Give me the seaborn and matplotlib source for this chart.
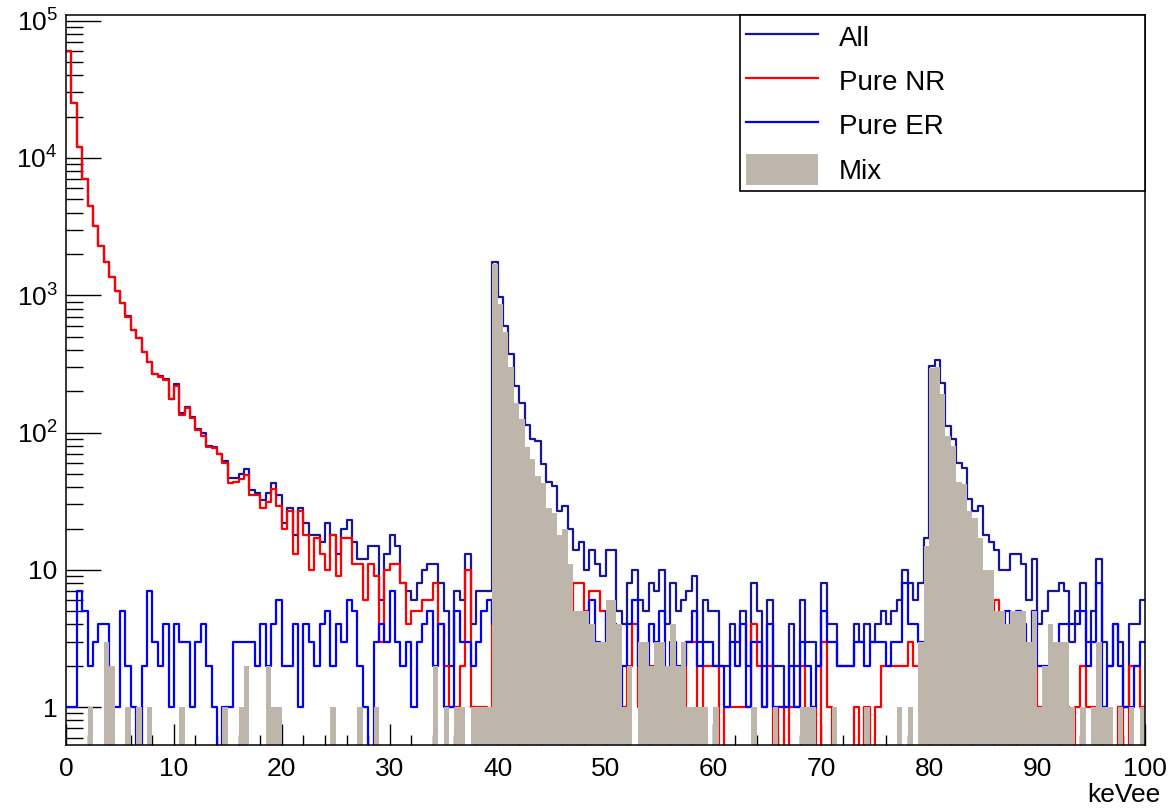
import numpy as np
import matplotlib
matplotlib.use("Agg")
import matplotlib.pyplot as plt
import seaborn as sns
from matplotlib.lines import Line2D
from matplotlib.patches import Patch
from matplotlib.ticker import FixedLocator, MultipleLocator, NullFormatter

# ---------------- data (counts per 0.5 keVee bin, 0-100 keVee) ----------------
bin_edges = [i * 0.5 for i in range(201)]

all_counts = [
    60000, 25000, 12000, 7000, 4500, 3200, 2300, 1750, 1350, 1080,
    885, 705, 560, 490, 385, 325, 268, 257, 245, 176,
    225, 138, 153, 130, 107, 99, 80, 78, 70, 62,
    47, 47, 50, 54, 38, 36, 32, 36, 43, 35,
    22, 28, 18, 28, 22, 18, 18, 16, 22, 18,
    13, 20, 23, 16, 12, 12, 15, 15, 6, 13,
    18, 15, 8, 7, 6, 8, 10, 11, 11, 8,
    5, 2, 7, 6, 13, 4, 7, 7, 7, 1750,
    970, 600, 375, 220, 165, 113, 90, 87, 59, 44,
    41, 27, 29, 20, 14, 16, 10, 14, 11, 9,
    14, 14, 5, 4, 8, 10, 6, 5, 8, 7,
    10, 4, 8, 5, 6, 7, 9, 3, 6, 5,
    5, 2, 2, 4, 3, 5, 2, 8, 5, 2,
    6, 2, 2, 1, 4, 2, 6, 3, 3, 2,
    8, 4, 4, 2, 2, 2, 4, 3, 4, 3,
    4, 5, 4, 5, 6, 10, 8, 6, 8, 17,
    305, 340, 230, 112, 90, 60, 55, 33, 27, 29,
    18, 16, 14, 10, 10, 13, 13, 11, 6, 12,
    4, 5, 7, 7, 8, 7, 3, 5, 8, 3,
    5, 12, 3, 2, 4, 3, 1, 4, 4, 6,
]

pure_nr = [
    60000, 25000, 12000, 7000, 4500, 3200, 2300, 1750, 1350, 1080,
    880, 700, 560, 490, 385, 325, 265, 255, 240, 175,
    220, 135, 150, 128, 104, 95, 78, 77, 70, 60,
    43, 44, 46, 49, 35, 35, 28, 31, 39, 29,
    20, 27, 13, 27, 18, 10, 17, 13, 10, 18,
    9, 17, 17, 11, 11, 6, 11, 9, 3, 10,
    11, 11, 8, 4, 5, 5, 6, 6, 8, 4,
    2, 1, 1, 2, 10, 1, 1, 1, 0, 6,
    6, 5, 5, 4, 5, 4, 4, 5, 4, 4,
    4, 3, 3, 4, 8, 8, 5, 7, 7, 5,
    3, 4, 0, 1, 2, 4, 1, 1, 2, 1,
    2, 1, 1, 1, 1, 3, 3, 0, 2, 2,
    2, 0, 1, 1, 1, 1, 1, 4, 2, 1,
    2, 0, 1, 0, 1, 1, 2, 0, 1, 0,
    3, 1, 0, 0, 0, 0, 1, 0, 1, 0,
    1, 2, 2, 2, 2, 2, 3, 2, 2, 1,
    4, 4, 4, 3, 3, 4, 3, 3, 2, 3,
    2, 3, 6, 2, 1, 2, 2, 1, 1, 2,
    1, 1, 1, 2, 1, 1, 0, 1, 2, 1,
    1, 1, 1, 0, 0, 1, 0, 2, 2, 1,
]

pure_er = [
    1, 1, 7, 5, 2, 3, 4, 4, 1, 1,
    5, 2, 1, 0, 2, 7, 3, 2, 4, 1,
    4, 3, 3, 1, 3, 4, 2, 1, 0, 1,
    1, 3, 3, 3, 3, 2, 4, 2, 4, 6,
    2, 2, 4, 1, 4, 3, 2, 4, 5, 2,
    4, 3, 6, 5, 2, 1, 0, 3, 4, 3,
    7, 3, 2, 3, 1, 3, 4, 5, 2, 4,
    1, 1, 5, 3, 3, 2, 3, 5, 6, 4,
    4, 3, 4, 5, 3, 4, 3, 4, 3, 4,
    3, 4, 3, 4, 3, 4, 3, 6, 3, 2,
    5, 4, 1, 2, 4, 6, 2, 1, 4, 3,
    5, 1, 3, 2, 2, 3, 5, 2, 3, 3,
    2, 2, 1, 3, 2, 4, 1, 3, 3, 1,
    4, 1, 1, 1, 2, 1, 3, 2, 1, 2,
    5, 3, 3, 2, 2, 2, 3, 3, 2, 3,
    3, 3, 2, 3, 3, 8, 4, 4, 3, 1,
    5, 4, 4, 4, 5, 4, 3, 3, 1, 4,
    4, 3, 3, 3, 5, 4, 5, 4, 2, 5,
    2, 2, 2, 2, 4, 4, 4, 4, 5, 2,
    3, 8, 1, 2, 4, 2, 1, 1, 2, 3,
]

mix = [
    0, 0, 0, 0, 1, 0, 0, 3, 2, 0,
    0, 1, 0, 1, 0, 1, 0, 0, 0, 0,
    0, 1, 0, 0, 0, 0, 0, 0, 0, 1,
    0, 0, 1, 2, 0, 0, 0, 2, 1, 1,
    0, 0, 0, 0, 0, 0, 0, 0, 0, 1,
    0, 0, 0, 0, 1, 0, 0, 1, 0, 0,
    0, 0, 0, 0, 0, 0, 0, 0, 2, 0,
    1, 0, 1, 1, 0, 1, 1, 1, 1, 1700,
    860, 540, 300, 165, 125, 78, 64, 48, 43, 28,
    26, 18, 20, 11, 5, 5, 5, 4, 3, 3,
    6, 6, 4, 1, 2, 0, 3, 3, 2, 3,
    3, 2, 4, 2, 3, 1, 1, 1, 1, 0,
    1, 0, 0, 0, 0, 0, 0, 1, 0, 0,
    0, 1, 0, 0, 0, 0, 1, 1, 1, 0,
    0, 0, 1, 0, 0, 0, 0, 0, 1, 0,
    0, 0, 0, 0, 1, 0, 1, 0, 3, 15,
    296, 300, 190, 95, 80, 44, 42, 27, 24, 17,
    10, 10, 5, 5, 4, 5, 5, 5, 3, 5,
    1, 2, 4, 3, 3, 3, 1, 0, 1, 0,
    1, 3, 1, 1, 0, 1, 0, 1, 0, 1,
]

series_labels = ["All", "Pure NR", "Pure ER", "Mix"]
y_tick_values = [1, 10, 100, 1000, 10000, 100000]
y_tick_labels = ["1", "10", "$10^{2}$", "$10^{3}$", "$10^{4}$", "$10^{5}$"]
x_label = "keVee"

# ---------------- style ----------------
plt.rcParams["font.family"] = ["Liberation Sans", "DejaVu Sans"]
plt.rcParams["mathtext.fontset"] = "custom"
plt.rcParams["mathtext.rm"] = "Liberation Sans"
plt.rcParams["mathtext.it"] = "Liberation Sans:italic"
plt.rcParams["mathtext.default"] = "rm"

c_all = "#16169c"
c_nr = "#ff0000"
c_er = "#0000ff"
c_mix = "#bfb6ab"
lw = 1.6

W, H = 1170, 811
fig = plt.figure(figsize=(W / 100, H / 100), dpi=100)
ax = fig.add_axes([66 / W, 1 - 745 / H, (1145 - 66) / W, (745 - 15) / H])
ax.set_yscale("log")

centers = [(bin_edges[i] + bin_edges[i + 1]) / 2 for i in range(len(bin_edges) - 1)]
for vals, col in [(all_counts, c_all), (pure_nr, c_nr), (pure_er, c_er)]:
    sns.histplot(x=centers, weights=vals, bins=bin_edges, element="step",
                 fill=False, color=col, linewidth=lw, ax=ax)
sns.histplot(x=centers, weights=mix, bins=bin_edges, element="step",
             fill=True, color=c_mix, alpha=1.0, linewidth=0, ax=ax, zorder=5)

ax.set_xlim(0, 100)
ax.set_ylim(0.53, 1.1e5)

# ticks (ROOT-like, inside)
ax.xaxis.set_major_locator(MultipleLocator(10))
ax.xaxis.set_minor_locator(MultipleLocator(2))
ax.yaxis.set_major_locator(FixedLocator(y_tick_values))
ax.set_yticklabels(y_tick_labels)
minor_y = [m * 10.0 ** e for e in range(-1, 6) for m in range(2, 10)]
minor_y = [v for v in minor_y if 0.53 <= v <= 1.1e5]
ax.yaxis.set_minor_locator(FixedLocator(minor_y))
ax.yaxis.set_minor_formatter(NullFormatter())

ax.tick_params(axis="x", which="major", direction="in", length=15, width=1,
               pad=9, labelsize=19, top=False)
ax.tick_params(axis="x", which="minor", direction="in", length=7.5, width=1, top=False)
ax.tick_params(axis="y", which="major", direction="in", length=25, width=1,
               pad=6, labelsize=19, right=False)
ax.tick_params(axis="y", which="minor", direction="in", length=12.5, width=1, right=False)
for s in ax.spines.values():
    s.set_linewidth(1.1)
    s.set_zorder(10)

ax.set_ylabel("")
ax.set_xlabel(x_label, fontsize=19, loc="right")
ax.xaxis.set_label_coords(1.014, -0.052)

# legend
handles = [
    Line2D([], [], color=c_all, lw=lw),
    Line2D([], [], color=c_nr, lw=lw),
    Line2D([], [], color=c_er, lw=lw),
    Patch(facecolor=c_mix, edgecolor="none"),
]
lx0 = (740 - 66) / (1145 - 66)
ly0 = (745 - 197) / (745 - 15)
leg = ax.legend(handles, series_labels, loc="upper left",
                bbox_to_anchor=(lx0, ly0, 1 - lx0, 1 - ly0), mode="expand",
                borderaxespad=0, frameon=True, fancybox=False, framealpha=1,
                edgecolor="black", fontsize=20, handlelength=2.6,
                handleheight=1.35, labelspacing=0.47, handletextpad=0.75,
                borderpad=0.22)
leg.get_frame().set_linewidth(1.2)
leg.set_zorder(20)

fig.savefig("out.png", dpi=100)
